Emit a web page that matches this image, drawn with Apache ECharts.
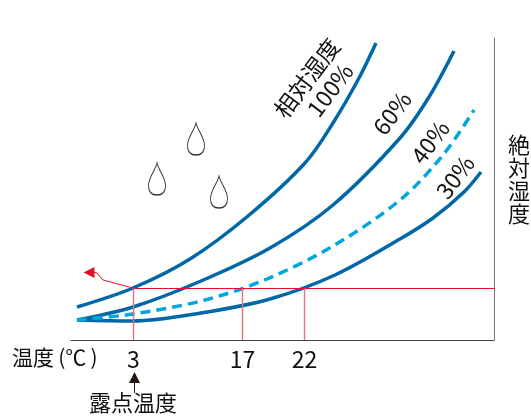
<!DOCTYPE html>
<html>
<head>
<meta charset="utf-8">
<style>html,body{margin:0;padding:0;background:#fff}#main{width:531px;height:417px}</style>
<script src="https://cdn.jsdelivr.net/npm/echarts@6/dist/echarts.min.js"></script>
</head>
<body>
<div id="main"></div>
<script>
// schematic axes: the temperature scale in the picture is not linear, so x/y are plain read-off units
const rh100 = [[6,33],[62,52],[119,81],[177,124],[234,177],[262,217],[288,262],[305,297]];
const rh60 = [[6,20],[62,33],[130,59],[199,92],[262,135],[329,202],[358,243],[383,289]];
const rh40 = [[6,20],[62,26],[134,40],[196,61],[262,94],[329,140],[372,185],[403,230]];
const rh30 = [[6,20],[62,19],[130,27],[199,41],[264,65],[329,101],[362,122],[393,148],[410,168]];

const tickPos = [62.5, 171.5, 233.5];
const tickLabels = ['3', '17', '22'];
const dewLevel = 51.5;
const xMax = 423;
const yMax = 302;

const evapPath = [[62,52],[32,60],[26,67],[21,68]];
const evapTip = [18,67.5];
const drops = [[125,201],[86,161],[148,148]];
const curveLabels = [
    {name:'相対湿度', value:[236,262]},
    {name:'100%', value:[259,250]},
    {name:'60%', value:[321,227]},
    {name:'40%', value:[359,198]},
    {name:'30%', value:[384,163]}
];

const narrow = '"Liberation Sans Narrow","Noto Sans CJK JP",sans-serif';
const cjk = '"Noto Sans CJK JP",sans-serif';
const dropPath = 'path://M50,0 C60,45 100,85 100,135 C100,178 75,190 50,190 C25,190 0,178 0,135 C0,85 40,45 50,0 Z';

function curve(data, color, dashed){
    return {
        type:'line', data:data, smooth:0.33, symbol:'none', silent:true,
        lineStyle:{color:color, width:3.5, type:dashed ? [10,6] : 'solid', cap:'butt'}
    };
}
function redLine(data, color, width){
    return {
        type:'line', data:data, symbol:'none', silent:true, z:3,
        lineStyle:{color:color, width:width}
    };
}

let series = [
    curve(rh100,'#0068a6'),
    curve(rh60,'#0068a6'),
    curve(rh30,'#0068a6'),
    curve(rh40,'#00a7db',true),
    redLine([[tickPos[0],dewLevel],[xMax,dewLevel]],'#e60f2a',1)
];
tickPos.forEach(function(x){
    series.push(redLine([[x,0],[x,dewLevel]],'#e8707c',1.4));
});
series.push(redLine(evapPath,'#e60f2a',1));
series.push({
    type:'scatter', data:[evapTip], symbol:'triangle', symbolSize:[11,11], symbolRotate:90,
    itemStyle:{color:'#dc1428', opacity:1}, silent:true, z:4
});
series.push({
    type:'scatter', data:drops, symbol:dropPath, symbolSize:[17,32], silent:true,
    itemStyle:{color:'#fff', borderColor:'#3a3230', borderWidth:1.2, opacity:1}
});
series.push({
    type:'scatter', data:curveLabels, symbol:'circle', symbolSize:0, silent:true,
    itemStyle:{opacity:1},
    label:{
        show:true, position:'inside', rotate:53, formatter:'{b}', color:'#111',
        fontFamily:narrow, fontSize:23
    }
});

let option = {
    animation:false,
    backgroundColor:'#fff',
    grid:{left:71, right:37, top:38, bottom:77},
    xAxis:{
        type:'value', min:0, max:xMax, splitLine:{show:false},
        axisLine:{lineStyle:{color:'#4a403c', width:1}},
        axisTick:{show:false},
        axisLabel:{
            customValues:tickPos,
            formatter:function(v){ return tickLabels[tickPos.indexOf(v)]; },
            color:'#111', fontFamily:narrow, fontSize:23, margin:8
        }
    },
    yAxis:{
        type:'value', min:0, max:yMax, position:'right', splitLine:{show:false},
        axisLine:{show:true, onZero:false, lineStyle:{color:'#7d7674', width:1}},
        axisTick:{show:false}, axisLabel:{show:false}
    },
    graphic:[
        {type:'text', left:12, top:347, style:{text:'温度\u2009(℃\u2009)', font:'21px '+cjk, fill:'#111'}},
        {type:'text', left:89, top:392, style:{text:'露点温度', font:'22px '+cjk, fill:'#111'}},
        {type:'text', left:508, top:133, style:{text:'絶\n対\n湿\n度', font:'22px '+cjk, lineHeight:23, fill:'#111'}},
        {type:'polygon', shape:{points:[[134.5,372],[129,383],[140,383]]}, style:{fill:'#231815'}},
        {type:'line', shape:{x1:134.5, y1:383, x2:134.5, y2:393}, style:{stroke:'#231815', lineWidth:1}}
    ],
    series:series
};
let myChart = echarts.init(document.getElementById('main'));
myChart.setOption(option);
</script>
</body>
</html>
